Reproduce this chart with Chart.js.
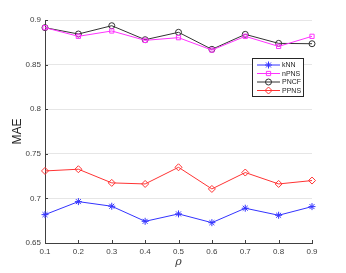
<!DOCTYPE html>
<html><head><meta charset="utf-8">
<script src="https://cdn.jsdelivr.net/npm/chart.js@4/dist/chart.umd.min.js"></script>
<style>html,body{margin:0;padding:0;background:#fff}#wrap{width:346px;height:273px}</style>
</head><body><div id="wrap"><canvas id="c" width="346" height="273"></canvas></div>
<script>
const rho = ['0.1','0.2','0.3','0.4','0.5','0.6','0.7','0.8','0.9'];
const kNN  = [0.6818,0.6964,0.6912,0.6743,0.6826,0.6728,0.6890,0.6811,0.6908];
const nPNS = [0.8914,0.8817,0.8877,0.8772,0.8802,0.8663,0.8817,0.8704,0.8817];
const PNCF = [0.8914,0.8843,0.8936,0.8779,0.8862,0.8671,0.8839,0.8738,0.8734];
const PPNS = [0.7308,0.7327,0.7174,0.7162,0.7349,0.7106,0.7290,0.7162,0.7200];
const seriesNames = ['kNN','nPNS','PNCF','PPNS'];

const styles = [
  {c:'#3333ff', p:'star', r:3.5},
  {c:'#ff33ff', p:'rect', r:3},
  {c:'#333333', p:'circle', r:3},
  {c:'#ff3333', p:'rectRot', r:3.5}
];
const vals = [kNN,nPNS,PNCF,PPNS];
const datasets = vals.map((v,i)=>({
  label: seriesNames[i], data: v, borderColor: styles[i].c, backgroundColor:'rgba(0,0,0,0)',
  borderWidth:1, pointStyle: styles[i].p, pointRadius: styles[i].r, pointBorderColor: styles[i].c,
  pointBackgroundColor:'rgba(0,0,0,0)', pointBorderWidth:1, tension:0
}));

const extras = {
  id:'extras',
  afterDraw(chart){
    const ctx = chart.ctx, a = chart.chartArea, xs = chart.scales.x, ys = chart.scales.y;
    ctx.save();
    ctx.strokeStyle = '#404040'; ctx.lineWidth = 1;
    ctx.beginPath();
    for (let i=0;i<rho.length;i++){ const x=Math.round(xs.getPixelForValue(i))+0.5; ctx.moveTo(x,a.bottom); ctx.lineTo(x,a.bottom-3);}
    for (const t of ys.ticks){ const y=Math.round(ys.getPixelForValue(t.value))+0.5; ctx.moveTo(a.left,y); ctx.lineTo(a.left+3,y);}
    ctx.stroke();
    // legend
    const bx=252.5, by=58.5, bw=51, bh=38;
    ctx.fillStyle='#fff'; ctx.fillRect(bx,by,bw,bh);
    ctx.strokeStyle='#262626'; ctx.strokeRect(bx,by,bw,bh);
    ctx.font='7px "Liberation Sans", Arial, sans-serif'; ctx.textBaseline='middle'; ctx.textAlign='left';
    seriesNames.forEach((n,i)=>{
      const y = by + 6.5 + i*8.5;
      ctx.strokeStyle = styles[i].c; ctx.lineWidth=1;
      ctx.beginPath(); ctx.moveTo(257,y); ctx.lineTo(280,y); ctx.stroke();
      ctx.fillStyle='rgba(0,0,0,0)';
      Chart.helpers.drawPoint(ctx,{pointStyle:styles[i].p, radius:styles[i].r, rotation:0, borderWidth:1}, 268.5, y);
      ctx.fillStyle='#262626'; ctx.fillText(n, 282, y+0.5);
    });
    ctx.restore();
  }
};

new Chart(document.getElementById('c'), {
  type:'line',
  data:{labels: rho, datasets},
  options:{
    responsive:false, animation:false, devicePixelRatio:1,
    layout:{padding:{left:0,top:20,right:34,bottom:0}},
    plugins:{legend:{display:false}, tooltip:{enabled:false}},
    scales:{
      x:{ offset:false,
        grid:{display:false, drawTicks:false},
        border:{color:'#404040', width:1},
        ticks:{color:'#404040', font:{size:8, family:'"Liberation Sans", Arial, sans-serif'}, padding:4, maxRotation:0, autoSkip:false},
        title:{display:true, text:'ρ', color:'#404040', font:{size:11, style:'italic', family:'"DejaVu Serif", serif'}, padding:{top:0,bottom:4}},
        afterFit(s){ s.height = 30; }
      },
      y:{ min:0.65, max:0.9,
        grid:{color:'#e6e6e6', drawTicks:false},
        border:{color:'#404040', width:1},
        ticks:{stepSize:0.05, color:'#404040', font:{size:8, family:'"Liberation Sans", Arial, sans-serif'}, padding:4,
          callback:(v)=>String(Number(Number(v).toFixed(2)))},
        title:{display:true, text:'MAE', color:'#262626', font:{size:12, family:'"Liberation Sans", Arial, sans-serif'}, padding:{top:10,bottom:0}},
        afterFit(s){ s.width = 45; }
      }
    }
  },
  plugins:[extras]
});
</script></body></html>
